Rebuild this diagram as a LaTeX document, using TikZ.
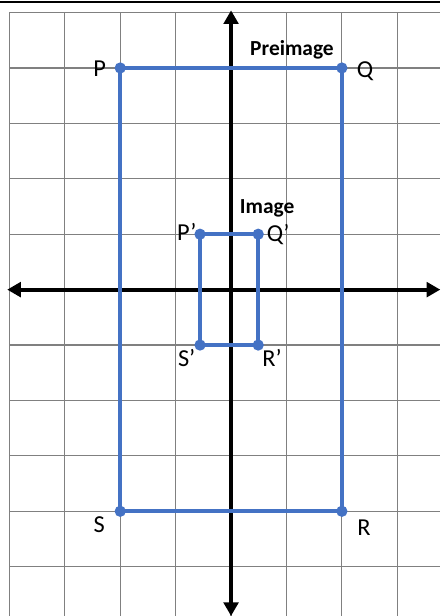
\documentclass[tikz,border=0pt]{standalone}
\usepackage{fontspec}
\setmainfont{Carlito}
\usetikzlibrary{arrows.meta}
\definecolor{shapeblue}{RGB}{68,114,196}

\begin{document}
\begin{tikzpicture}[>={Triangle[length=7pt,width=7.5pt]},
 vertex/.style={circle,fill=shapeblue,inner sep=0pt,minimum size=5.8pt},
 lbl/.style={font=\fontsize{12.5}{14}\selectfont,inner sep=0pt},
 tag/.style={font=\fontsize{11}{13}\selectfont\bfseries,inner sep=0pt}]
 \useasboundingbox (-4.17,-5.89) rectangle (3.776,5.227);
 \draw[line width=0.7pt] (-4.17,5.19) -- (3.776,5.19);
 \draw[gray,line width=0.6pt] (-4,-5.89) grid (3.776,5);
 \draw[<->,line width=2pt] (-4.04,0) -- (3.776,0);
 \draw[<->,line width=2pt] (0,-5.89) -- (0,5.04);
 \node[vertex] (P) at (-2,4) {};
 \node[vertex] (Q) at (2,4) {};
 \node[vertex] (R) at (2,-4) {};
 \node[vertex] (S) at (-2,-4) {};
 \draw[shapeblue,line width=2pt] (P.center) -- (Q.center) -- (R.center) -- (S.center) -- cycle;
 \node[vertex] (P1) at (-0.56,1) {};
 \node[vertex] (Q1) at (0.49,1) {};
 \node[vertex] (R1) at (0.49,-1) {};
 \node[vertex] (S1) at (-0.56,-1) {};
 \draw[shapeblue,line width=2pt] (P1.center) -- (Q1.center) -- (R1.center) -- (S1.center) -- cycle;
 \node[lbl] (Pl) at (-2.37,3.98) {P};
 \node[lbl] (Ql) at (2.42,3.95) {Q};
 \node[lbl] (Rl) at (2.40,-4.29) {R};
 \node[lbl] (Sl) at (-2.38,-4.25) {S};
 \node[lbl] (P1l) at (-0.80,1.04) {P’};
 \node[lbl] (Q1l) at (0.85,0.99) {Q’};
 \node[lbl] (R1l) at (0.74,-1.24) {R’};
 \node[lbl] (S1l) at (-0.80,-1.24) {S’};
 \node[tag] (pre) at (1.10,4.33) {Preimage};
 \node[tag] (img) at (0.65,1.47) {Image};
\end{tikzpicture}
\end{document}
